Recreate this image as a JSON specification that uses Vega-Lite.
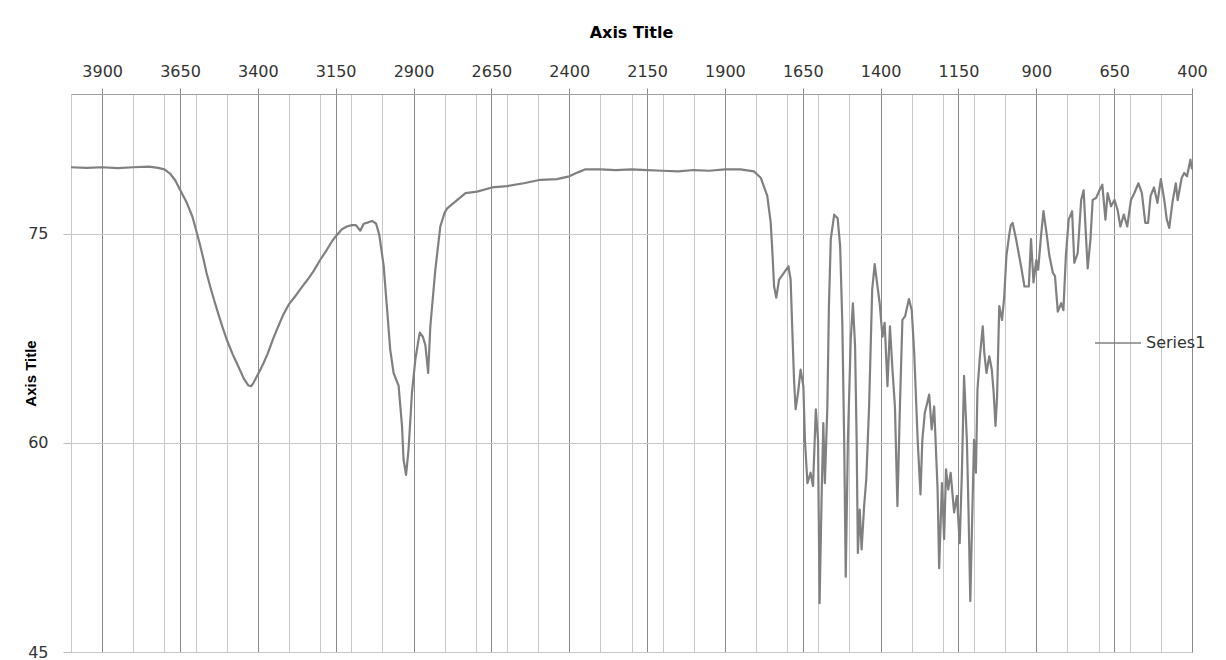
{
  "$schema": "https://vega.github.io/schema/vega-lite/v6.json",
  "width": 1121,
  "height": 558,
  "autosize": {"type": "none"},
  "padding": {"left": 71, "top": 94, "right": 34, "bottom": 8},
  "background": "white",
  "config": {"view": {"stroke": "#9f9f9f", "strokeWidth": 1}, "font": "DejaVu Sans"},
  "data": {"values": [
    {"wn":4000,"t":79.75},{"wn":3950,"t":79.7},{"wn":3900,"t":79.75},{"wn":3850,"t":79.68},{"wn":3800,"t":79.75},{"wn":3750,"t":79.8},{"wn":3720,"t":79.7},{"wn":3700,"t":79.6},{"wn":3682,"t":79.3},{"wn":3665,"t":78.8},{"wn":3649,"t":78.1},{"wn":3628,"t":77.2},{"wn":3610,"t":76.2},{"wn":3599,"t":75.3},{"wn":3587,"t":74.3},{"wn":3575,"t":73.2},{"wn":3565,"t":72.2},{"wn":3553,"t":71.2},{"wn":3540,"t":70.2},{"wn":3525,"t":69.1},{"wn":3515,"t":68.4},{"wn":3500,"t":67.4},{"wn":3480,"t":66.3},{"wn":3457,"t":65.2},{"wn":3445,"t":64.6},{"wn":3430,"t":64.1},{"wn":3422,"t":64.05},{"wn":3414,"t":64.3},{"wn":3395,"t":65.1},{"wn":3382,"t":65.7},{"wn":3370,"t":66.3},{"wn":3360,"t":66.9},{"wn":3350,"t":67.5},{"wn":3339,"t":68.1},{"wn":3320,"t":69.1},{"wn":3301,"t":69.9},{"wn":3280,"t":70.5},{"wn":3264,"t":71.0},{"wn":3240,"t":71.7},{"wn":3221,"t":72.3},{"wn":3200,"t":73.1},{"wn":3178,"t":73.85},{"wn":3160,"t":74.5},{"wn":3146,"t":74.9},{"wn":3130,"t":75.3},{"wn":3114,"t":75.5},{"wn":3098,"t":75.6},{"wn":3085,"t":75.6},{"wn":3071,"t":75.2},{"wn":3060,"t":75.7},{"wn":3045,"t":75.8},{"wn":3033,"t":75.9},{"wn":3020,"t":75.7},{"wn":3010,"t":74.9},{"wn":2996,"t":72.7},{"wn":2985,"t":69.6},{"wn":2975,"t":66.7},{"wn":2964,"t":65.0},{"wn":2948,"t":64.1},{"wn":2937,"t":61.2},{"wn":2932,"t":58.8},{"wn":2924,"t":57.7},{"wn":2916,"t":59.5},{"wn":2905,"t":63.6},{"wn":2894,"t":66.0},{"wn":2880,"t":67.9},{"wn":2870,"t":67.6},{"wn":2862,"t":67.0},{"wn":2853,"t":65.0},{"wn":2846,"t":68.35},{"wn":2830,"t":72.4},{"wn":2814,"t":75.5},{"wn":2800,"t":76.5},{"wn":2792,"t":76.8},{"wn":2765,"t":77.3},{"wn":2733,"t":77.9},{"wn":2696,"t":78.0},{"wn":2648,"t":78.3},{"wn":2600,"t":78.4},{"wn":2546,"t":78.6},{"wn":2492,"t":78.85},{"wn":2440,"t":78.9},{"wn":2400,"t":79.1},{"wn":2370,"t":79.4},{"wn":2348,"t":79.6},{"wn":2300,"t":79.6},{"wn":2250,"t":79.55},{"wn":2200,"t":79.6},{"wn":2150,"t":79.55},{"wn":2100,"t":79.5},{"wn":2050,"t":79.45},{"wn":2000,"t":79.55},{"wn":1950,"t":79.5},{"wn":1900,"t":79.6},{"wn":1850,"t":79.6},{"wn":1807,"t":79.45},{"wn":1785,"t":79.0},{"wn":1764,"t":77.7},{"wn":1753,"t":75.8},{"wn":1748,"t":73.85},{"wn":1742,"t":71.2},{"wn":1735,"t":70.4},{"wn":1726,"t":71.7},{"wn":1710,"t":72.2},{"wn":1696,"t":72.65},{"wn":1689,"t":71.7},{"wn":1684,"t":68.35},{"wn":1678,"t":64.5},{"wn":1673,"t":62.4},{"wn":1665,"t":63.6},{"wn":1657,"t":65.25},{"wn":1648,"t":64.05},{"wn":1643,"t":60.2},{"wn":1635,"t":57.1},{"wn":1625,"t":57.85},{"wn":1617,"t":56.9},{"wn":1608,"t":62.4},{"wn":1601,"t":60.2},{"wn":1596,"t":48.5},{"wn":1589,"t":56.65},{"wn":1584,"t":61.4},{"wn":1579,"t":57.1},{"wn":1571,"t":62.6},{"wn":1566,"t":69.8},{"wn":1560,"t":74.6},{"wn":1549,"t":76.35},{"wn":1538,"t":76.1},{"wn":1530,"t":74.1},{"wn":1523,"t":68.6},{"wn":1517,"t":60.2},{"wn":1512,"t":50.4},{"wn":1505,"t":60.2},{"wn":1496,"t":67.4},{"wn":1489,"t":70.0},{"wn":1482,"t":66.9},{"wn":1477,"t":60.2},{"wn":1473,"t":52.1},{"wn":1467,"t":55.2},{"wn":1461,"t":52.35},{"wn":1453,"t":55.45},{"wn":1446,"t":57.4},{"wn":1437,"t":62.6},{"wn":1427,"t":71.0},{"wn":1419,"t":72.8},{"wn":1410,"t":71.2},{"wn":1403,"t":70.0},{"wn":1394,"t":67.6},{"wn":1387,"t":68.6},{"wn":1378,"t":64.05},{"wn":1370,"t":68.35},{"wn":1362,"t":65.25},{"wn":1354,"t":62.6},{"wn":1346,"t":55.45},{"wn":1338,"t":62.6},{"wn":1330,"t":68.8},{"wn":1321,"t":69.1},{"wn":1309,"t":70.3},{"wn":1300,"t":69.5},{"wn":1292,"t":66.4},{"wn":1281,"t":60.2},{"wn":1272,"t":56.3},{"wn":1266,"t":60.2},{"wn":1258,"t":62.15},{"wn":1244,"t":63.45},{"wn":1236,"t":60.95},{"wn":1228,"t":62.6},{"wn":1217,"t":56.65},{"wn":1212,"t":51.0},{"wn":1203,"t":57.1},{"wn":1196,"t":53.1},{"wn":1190,"t":58.1},{"wn":1183,"t":56.65},{"wn":1175,"t":57.85},{"wn":1164,"t":55.0},{"wn":1155,"t":56.2},{"wn":1146,"t":52.8},{"wn":1139,"t":57.85},{"wn":1132,"t":64.8},{"wn":1123,"t":60.2},{"wn":1118,"t":55.45},{"wn":1112,"t":48.65},{"wn":1105,"t":55.45},{"wn":1100,"t":60.2},{"wn":1094,"t":57.85},{"wn":1089,"t":63.8},{"wn":1081,"t":66.2},{"wn":1072,"t":68.35},{"wn":1067,"t":66.45},{"wn":1060,"t":65.0},{"wn":1051,"t":66.2},{"wn":1043,"t":65.25},{"wn":1037,"t":63.6},{"wn":1031,"t":61.2},{"wn":1026,"t":63.3},{"wn":1019,"t":69.8},{"wn":1010,"t":68.8},{"wn":1003,"t":70.5},{"wn":996,"t":73.4},{"wn":987,"t":74.9},{"wn":982,"t":75.6},{"wn":976,"t":75.76},{"wn":965,"t":74.6},{"wn":949,"t":72.65},{"wn":938,"t":71.2},{"wn":924,"t":71.2},{"wn":917,"t":74.6},{"wn":909,"t":71.5},{"wn":900,"t":73.1},{"wn":894,"t":72.4},{"wn":885,"t":74.8},{"wn":877,"t":76.6},{"wn":867,"t":75.0},{"wn":858,"t":73.4},{"wn":847,"t":72.2},{"wn":840,"t":71.95},{"wn":831,"t":69.4},{"wn":820,"t":70.0},{"wn":813,"t":69.5},{"wn":805,"t":73.4},{"wn":796,"t":76.0},{"wn":785,"t":76.6},{"wn":778,"t":72.9},{"wn":767,"t":73.6},{"wn":756,"t":77.4},{"wn":748,"t":78.1},{"wn":740,"t":74.6},{"wn":735,"t":72.5},{"wn":726,"t":74.6},{"wn":719,"t":77.4},{"wn":708,"t":77.55},{"wn":697,"t":78.1},{"wn":688,"t":78.5},{"wn":678,"t":76.0},{"wn":671,"t":77.9},{"wn":660,"t":76.95},{"wn":649,"t":77.4},{"wn":639,"t":76.7},{"wn":630,"t":75.5},{"wn":619,"t":76.35},{"wn":608,"t":75.5},{"wn":596,"t":77.4},{"wn":585,"t":77.9},{"wn":572,"t":78.6},{"wn":561,"t":77.9},{"wn":550,"t":75.76},{"wn":541,"t":75.76},{"wn":533,"t":77.7},{"wn":522,"t":78.3},{"wn":511,"t":77.2},{"wn":500,"t":78.9},{"wn":489,"t":77.4},{"wn":481,"t":76.0},{"wn":473,"t":75.4},{"wn":463,"t":77.2},{"wn":452,"t":78.6},{"wn":446,"t":77.4},{"wn":433,"t":79.0},{"wn":425,"t":79.34},{"wn":416,"t":79.1},{"wn":405,"t":80.3},{"wn":400,"t":79.6}
  ]},
  "mark": {"type": "line", "strokeWidth": 2.2, "strokeJoin": "round"},
  "encoding": {
    "x": {
      "field": "wn", "type": "quantitative",
      "scale": {"domain": [400, 4000], "reverse": true, "nice": false, "zero": false},
      "axis": {
        "orient": "top",
        "values": [4000,3900,3800,3700,3650,3600,3500,3400,3300,3200,3150,3100,3000,2900,2800,2700,2650,2600,2500,2400,2300,2200,2150,2100,2000,1900,1800,1700,1650,1600,1500,1400,1300,1200,1150,1100,1000,900,800,700,650,600,500,400],
        "format": "d",
        "labelExpr": "(datum.value - 400) % 250 === 0 ? datum.label : ''",
        "labelOverlap": false, "labelFlush": false, "labelBound": false,
        "labelFont": "DejaVu Sans", "labelFontSize": 16, "labelColor": "#333333",
        "labelBaseline": "alphabetic", "labelPadding": 12,
        "tickSize": 6, "tickColor": "#8a8a8a",
        "tickOpacity": {"condition": {"test": "(datum.value - 400) % 250 === 0", "value": 1}, "value": 0},
        "grid": true,
        "gridColor": {"condition": {"test": "(datum.value - 400) % 250 === 0", "value": "#8a8a8a"}, "value": "#c8c8c8"},
        "gridWidth": 1,
        "domainColor": "#9f9f9f",
        "title": "Axis Title",
        "titleFont": "DejaVu Sans", "titleFontSize": 16, "titleFontWeight": "bold", "titleColor": "#000000",
        "titleBaseline": "alphabetic", "titleX": 560, "titleY": -57, "titleAlign": "center"
      }
    },
    "y": {
      "field": "t", "type": "quantitative",
      "scale": {"domain": [45, 85], "nice": false, "zero": false},
      "axis": {
        "values": [45, 60, 75],
        "labelFont": "DejaVu Sans", "labelFontSize": 16, "labelColor": "#333333", "labelPadding": 15,
        "tickSize": 8, "tickColor": "#bdbdbd",
        "grid": true, "gridColor": "#c8c8c8",
        "domainColor": "#c8c8c8",
        "title": "Axis Title",
        "titleFont": "Liberation Sans", "titleFontSize": 15, "titleFontWeight": "bold", "titleColor": "#000000",
        "titleAngle": 270, "titleBaseline": "alphabetic", "titleAlign": "center", "titleX": -36, "titleY": 279
      }
    },
    "color": {
      "datum": "Series1", "type": "nominal",
      "scale": {"range": ["#808080"]},
      "legend": {
        "orient": "none", "legendX": 1023, "legendY": 225, "title": null, "padding": 0,
        "symbolType": "stroke", "symbolSize": 2116, "symbolStrokeWidth": 1.5,
        "labelFont": "DejaVu Sans", "labelFontSize": 16, "labelColor": "#333333", "labelOffset": 4
      }
    }
  }
}
